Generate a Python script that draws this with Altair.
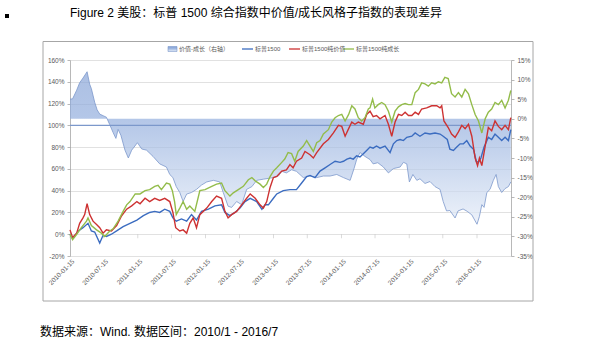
import altair as alt
import pandas as pd

# ---------------- data ----------------
area_dates = ["2010-01-15","2010-01-29","2010-02-20","2010-03-08","2010-03-26","2010-04-17","2010-05-01","2010-05-10",
    "2010-05-28","2010-06-10","2010-06-24","2010-07-12","2010-07-30","2010-08-17","2010-09-04","2010-09-19","2010-10-01",
    "2010-10-16","2010-11-07","2010-11-25","2010-12-13","2011-01-13","2011-02-05","2011-03-03","2011-04-07","2011-05-13",
    "2011-06-18","2011-07-06","2011-07-23","2011-08-10","2011-08-29","2011-09-16","2011-10-05","2011-10-31","2011-11-27",
    "2011-12-24","2012-01-21","2012-02-26","2012-03-31","2012-04-19","2012-05-15","2012-06-03","2012-06-30","2012-07-27",
    "2012-08-23","2012-09-20","2012-10-16","2012-11-21","2013-01-14","2013-02-10","2013-02-28","2013-03-25","2013-04-22",
    "2013-05-18","2013-06-24","2013-07-30","2013-09-04","2013-10-10","2013-11-15","2013-12-21","2014-01-26","2014-03-03",
    "2014-03-24","2014-04-07","2014-04-25","2014-05-22","2014-06-18","2014-07-05","2014-07-30","2014-08-29","2014-09-25",
    "2014-10-22","2014-11-27","2014-12-15","2015-01-02","2015-01-16","2015-02-04","2015-02-25","2015-03-14","2015-04-10",
    "2015-05-07","2015-06-03","2015-06-30","2015-07-17","2015-08-04","2015-08-22","2015-09-19","2015-10-05","2015-11-01",
    "2015-11-23","2015-12-18","2016-01-15","2016-01-28","2016-02-10","2016-02-22","2016-03-08","2016-03-25","2016-04-12",
    "2016-04-27","2016-05-09","2016-05-27","2016-06-14","2016-07-02","2016-07-15"]
area_vals = [5.0,5.1,7.3,9.2,10.4,12.0,8.8,7.7,4.2,2.3,1.2,0.8,0.4,-1.5,-3.5,-5.0,-2.7,-4.2,-8.0,-10.0,-8.0,-6.1,-7.7,-8.0,
    -9.6,-11.5,-12.3,-14.2,-15.0,-17.3,-18.8,-21.1,-19.2,-18.8,-18.0,-16.9,-16.1,-15.7,-16.1,-18.8,-22.3,-22.6,-21.1,-21.9,
    -18.0,-17.3,-15.7,-15.4,-15.0,-14.6,-13.4,-13.8,-13.0,-13.4,-15.0,-14.6,-15.0,-14.6,-14.6,-14.2,-15.0,-15.7,-12.7,-10.4,
    -8.6,-9.6,-10.4,-11.5,-11.2,-12.3,-13.8,-12.7,-12.3,-11.1,-11.5,-16.1,-14.2,-15.7,-15.3,-16.5,-16.0,-17.3,-18.0,-21.1,
    -23.5,-23.4,-25.3,-23.5,-23.0,-23.6,-24.5,-26.9,-24.9,-21.9,-22.6,-18.8,-18.0,-15.7,-14.2,-17.3,-18.8,-17.8,-17.3,-16.1]

sp_dates = ["2010-01-15","2010-01-29","2010-03-01","2010-03-26","2010-04-22","2010-05-10","2010-05-28","2010-06-24",
    "2010-07-12","2010-07-30","2010-08-26","2010-09-23","2010-10-28","2010-12-04","2011-01-10","2011-02-14","2011-03-20",
    "2011-04-16","2011-05-13","2011-06-09","2011-07-06","2011-07-23","2011-08-10","2011-09-07","2011-10-05","2011-10-31",
    "2011-11-27","2011-12-24","2012-01-30","2012-03-05","2012-04-10","2012-04-28","2012-05-25","2012-06-21","2012-07-18",
    "2012-08-14","2012-09-11","2012-10-16","2012-11-13","2012-11-30","2012-12-18","2013-01-14","2013-02-01","2013-03-08",
    "2013-04-13","2013-05-18","2013-06-15","2013-07-12","2013-07-30","2013-08-26","2013-09-22","2013-10-19","2013-11-15",
    "2013-12-12","2014-01-08","2014-01-26","2014-02-14","2014-03-03","2014-03-20","2014-04-07","2014-04-25","2014-05-31",
    "2014-06-18","2014-07-05","2014-07-23","2014-08-11","2014-09-07","2014-10-04","2014-10-22","2014-11-09","2014-11-27",
    "2014-12-15","2015-01-02","2015-01-29","2015-02-16","2015-03-14","2015-04-10","2015-05-07","2015-06-03","2015-06-30",
    "2015-07-17","2015-08-08","2015-08-22","2015-09-10","2015-09-28","2015-10-16","2015-11-03","2015-11-21","2015-12-09",
    "2015-12-27","2016-01-11","2016-01-23","2016-02-05","2016-02-22","2016-03-16","2016-04-03","2016-04-21","2016-05-09",
    "2016-05-27","2016-06-14","2016-07-02","2016-07-15"]
sp_vals = [0,-4,3,6,10,3,2,-8,-1,-2,0,3,7,10,13,17,20,21,20,23,21,15,12,14,12,18,13,21,23,26,27,20,17,20,24,30,33,30,23,
    27,27,33,37,40,41,41,47,53,54,52,58,61,64,67,66,67,69,70,69,72,71,77,80,79,81,79,81,75,83,86,87,86,89,90,93,90,93,92,
    93,92,90,87,78,77,80,83,83,86,81,78,67,66,70,80,89,87,92,89,86,89,86,96]

value_dates = ["2010-01-15","2010-01-29","2010-02-20","2010-03-08","2010-03-26","2010-04-04","2010-04-17","2010-05-01",
    "2010-05-19","2010-06-07","2010-06-24","2010-07-12","2010-07-30","2010-08-26","2010-09-23","2010-10-20","2010-11-16",
    "2010-12-13","2011-01-10","2011-01-27","2011-02-23","2011-03-20","2011-04-16","2011-05-13","2011-06-09","2011-07-06",
    "2011-07-23","2011-08-07","2011-08-29","2011-09-16","2011-10-05","2011-10-22","2011-11-09","2011-11-27","2011-12-15",
    "2012-01-21","2012-02-17","2012-03-14","2012-04-10","2012-04-28","2012-05-15","2012-06-03","2012-06-30","2012-07-27",
    "2012-08-23","2012-09-11","2012-10-08","2012-11-03","2012-11-21","2012-12-09","2012-12-27","2013-01-14","2013-02-01",
    "2013-02-28","2013-03-25","2013-04-13","2013-04-30","2013-05-18","2013-06-15","2013-07-03","2013-07-30","2013-08-17",
    "2013-09-04","2013-10-10","2013-11-06","2013-12-03","2013-12-30","2014-01-17","2014-02-04","2014-02-23","2014-03-12",
    "2014-03-29","2014-04-16","2014-05-13","2014-05-31","2014-06-18","2014-07-05","2014-07-23","2014-08-11","2014-09-07",
    "2014-09-25","2014-10-13","2014-10-31","2014-11-18","2014-12-06","2014-12-24","2015-01-11","2015-01-29","2015-02-16",
    "2015-03-06","2015-03-23","2015-04-19","2015-05-16","2015-06-12","2015-06-30","2015-07-09","2015-07-21","2015-08-13",
    "2015-08-31","2015-09-19","2015-10-07","2015-10-25","2015-11-12","2015-11-30","2015-12-18","2016-01-05","2016-01-18",
    "2016-01-28","2016-02-10","2016-02-28","2016-03-16","2016-04-03","2016-04-21","2016-05-09","2016-05-27","2016-06-14",
    "2016-07-02","2016-07-15"]
value_vals = [4,-3,1,10,15,18,28,18,12,9,6,1,4,3,8,17,23,26,30,28,33,30,33,31,33,30,20,6,3,4,1,10,15,6,18,24,30,35,33,21,
    15,18,21,27,33,37,33,27,24,30,43,52,53,58,59,64,61,67,70,76,73,70,75,83,87,93,100,99,90,97,103,101,103,101,110,113,108,
    109,106,109,101,90,103,110,109,112,109,109,112,110,115,116,118,118,116,118,104,98,92,89,94,100,97,101,90,70,63,70,63,81,
    98,95,104,99,96,100,96,107]

growth_dates = ["2010-01-15","2010-01-29","2010-02-20","2010-03-17","2010-04-14","2010-04-22","2010-05-10","2010-06-07",
    "2010-07-03","2010-07-21","2010-08-17","2010-09-04","2010-10-01","2010-10-28","2010-11-16","2010-12-04","2011-01-01",
    "2011-01-27","2011-02-23","2011-03-20","2011-04-16","2011-05-04","2011-05-22","2011-06-18","2011-07-06","2011-07-20",
    "2011-08-01","2011-08-10","2011-08-29","2011-09-16","2011-10-05","2011-10-22","2011-11-18","2011-12-15","2012-01-12",
    "2012-02-17","2012-03-14","2012-04-10","2012-04-28","2012-05-25","2012-06-12","2012-07-09","2012-08-05","2012-09-01",
    "2012-09-20","2012-10-08","2012-11-03","2012-11-21","2012-12-09","2012-12-27","2013-01-14","2013-02-01","2013-02-28",
    "2013-03-16","2013-04-03","2013-04-22","2013-05-09","2013-05-27","2013-06-24","2013-07-12","2013-07-30","2013-08-17",
    "2013-09-04","2013-09-22","2013-10-10","2013-11-06","2013-11-24","2013-12-12","2013-12-30","2014-01-17","2014-02-04",
    "2014-02-23","2014-03-12","2014-03-29","2014-04-16","2014-05-04","2014-05-22","2014-06-09","2014-06-18","2014-07-02",
    "2014-07-14","2014-08-01","2014-08-20","2014-09-07","2014-09-25","2014-10-13","2014-10-31","2014-11-18","2014-12-06",
    "2014-12-24","2015-01-11","2015-01-29","2015-02-16","2015-03-06","2015-03-23","2015-04-10","2015-04-28","2015-05-16",
    "2015-06-03","2015-06-21","2015-07-09","2015-07-26","2015-08-13","2015-08-31","2015-09-19","2015-10-07","2015-10-25",
    "2015-11-12","2015-11-30","2015-12-18","2016-01-05","2016-01-23","2016-02-10","2016-02-28","2016-03-16","2016-04-03",
    "2016-04-21","2016-05-09","2016-05-27","2016-06-14","2016-07-02","2016-07-15"]
growth_vals = [0,-5,0,6,12,15,8,4,1,-2,3,5,12,21,27,30,37,37,40,41,44,45,41,47,46,40,30,18,24,30,23,26,21,40,41,44,46,47,
    40,35,38,41,44,50,52,49,46,43,46,53,58,61,66,69,75,74,67,76,81,86,81,76,84,86,92,96,103,107,109,110,104,110,118,115,
    107,104,107,115,116,124,116,119,121,119,113,103,113,117,119,120,119,119,130,133,139,138,136,139,138,140,139,144,143,
    129,126,130,126,133,129,119,110,104,93,106,112,115,121,119,123,116,123,132]

tick_dates = ["2010-01-15","2010-07-15","2011-01-15","2011-07-15","2012-01-15","2012-07-15","2013-01-15",
              "2013-07-15","2014-01-15","2014-07-15","2015-01-15","2015-07-15","2016-01-15"]
left_ticks = [-0.2, 0.0, 0.2, 0.4, 0.6, 0.8, 1.0, 1.2, 1.4, 1.6]
right_ticks = [-0.35, -0.30, -0.25, -0.20, -0.15, -0.10, -0.05, 0.0, 0.05, 0.10, 0.15]

title_text = "Figure 2 美股：标普 1500 综合指数中价值/成长风格子指数的表现差异"
source_text = "数据来源：Wind. 数据区间：2010/1 - 2016/7"
legend_labels = ["价值-成长（右轴）", "标普1500", "标普1500纯价值", "标普1500纯成长"]
line_colors = ["#3B6CC0", "#CD3232", "#93BC4A"]

# ---------------- helpers ----------------
FONT = "Liberation Sans, Noto Sans CJK SC"
LABEL_COLOR = "#595959"
W, H = 441, 196


def utc(s):
    y, m, d = (int(p) for p in s.split("-"))
    return alt.DateTime(year=y, month=m, date=d, utc=True)


def series_df(dates, vals):
    return pd.DataFrame({"date": dates, "value": [v / 100 for v in vals]})


x_enc = alt.X(
    "date:T",
    scale=alt.Scale(type="utc", domain=[utc("2010-01-15"), utc("2016-07-16")], nice=False),
    axis=alt.Axis(
        values=[utc(d) for d in tick_dates],
        labelExpr="utcFormat(datum.value, '%Y-%m-%d')",
        labelAngle=-45, labelAlign="right", labelBaseline="middle",
        labelFontSize=6.5, labelFont=FONT, labelColor=LABEL_COLOR,
        labelPadding=4, labelOffset=3, labelOverlap=False, labelFlush=False, labelBound=False,
        domain=False, ticks=False, grid=False, title=None,
    ),
)

pct_expr = "(datum.value < -0.0001 ? '-' : '') + format(abs(datum.value), '.0%')"

y_left = alt.Y(
    "value:Q",
    scale=alt.Scale(domain=[-0.2, 1.6], nice=False, zero=False),
    axis=alt.Axis(
        values=left_ticks, labelExpr=pct_expr, orient="left",
        grid=True, gridColor="#D9D9D9", gridWidth=0.8,
        domainColor="#A6A6A6", domainWidth=0.8, tickColor="#A6A6A6", tickSize=3, tickWidth=0.8,
        labelFontSize=6.5, labelFont=FONT, labelColor=LABEL_COLOR, labelPadding=3, title=None,
    ),
)

y_right = alt.Y(
    "value:Q",
    scale=alt.Scale(domain=[-0.35, 0.15], nice=False, zero=False),
    axis=alt.Axis(
        values=right_ticks, labelExpr=pct_expr, orient="right",
        grid=False, domainColor="#A6A6A6", domainWidth=0.8, tickColor="#A6A6A6", tickSize=3, tickWidth=0.8,
        labelFontSize=6.5, labelFont=FONT, labelColor=LABEL_COLOR, labelPadding=3, title=None,
    ),
)

area_fill = alt.Gradient(
    gradient="linear",
    stops=[alt.GradientStop(color="#88A4D7", offset=0),
           alt.GradientStop(color="#94AFDE", offset=0.32),
           alt.GradientStop(color="#BACCEA", offset=0.65),
           alt.GradientStop(color="#E6EDF8", offset=1)],
    x1=0, x2=0, y1=0, y2=1,
)

# ---------------- marks ----------------
area = alt.Chart(series_df(area_dates, area_vals)).mark_area(
    color=area_fill, line={"color": "#7C98CB", "strokeWidth": 0.8}, interpolate="linear"
).encode(x=x_enc, y=y_right, y2=alt.datum(0))

rule100 = alt.Chart(pd.DataFrame({"value": [1.0]})).mark_rule(color="#7C98CB", strokeWidth=1.2).encode(y=y_left)

ticks0 = alt.Chart(pd.DataFrame({"date": tick_dates, "value": [0.0] * len(tick_dates)})).mark_tick(
    orient="vertical", size=4, thickness=0.8, color="#BFBFBF", yOffset=2
).encode(x=x_enc, y=y_left)


def line_layer(dates, vals, color):
    return alt.Chart(series_df(dates, vals)).mark_line(color=color, strokeWidth=1.4, interpolate="linear").encode(
        x=x_enc, y=y_left)


left_group = alt.layer(
    ticks0, rule100,
    line_layer(sp_dates, sp_vals, line_colors[0]),
    line_layer(value_dates, value_vals, line_colors[1]),
    line_layer(growth_dates, growth_vals, line_colors[2]),
)

one = pd.DataFrame({"k": [0]})

frame = alt.Chart(one).mark_rect(fill=None, stroke="#A6A6A6", strokeWidth=1).encode(
    x=alt.value(-27), x2=alt.value(463), y=alt.value(-18.5), y2=alt.value(241))

title = alt.Chart(one).mark_text(
    text=title_text, align="left", baseline="middle", fontSize=12, font=FONT, color="#000000"
).encode(x=alt.value(0), y=alt.value(-47))

bullet = alt.Chart(one).mark_rect(color="#000000").encode(
    x=alt.value(-65), x2=alt.value(-61), y=alt.value(-46), y2=alt.value(-42))

source = alt.Chart(one).mark_text(
    text=source_text, align="left", baseline="middle", fontSize=12, font=FONT, color="#000000"
).encode(x=alt.value(-30), y=alt.value(272))

# legend (drawn by hand, Excel style)
LEG_Y = -11
leg_swatch = alt.Chart(one).mark_rect(color=area_fill, stroke="#7C98CB", strokeWidth=0.6).encode(
    x=alt.value(98), x2=alt.value(107), y=alt.value(LEG_Y - 2.5), y2=alt.value(LEG_Y + 2.5))

leg_layers = [leg_swatch]
leg_line_x = [172, 219, 273]
leg_text_x = [109, 185, 232, 286]
for i, lx in enumerate(leg_line_x):
    leg_layers.append(alt.Chart(one).mark_rule(color=line_colors[i], strokeWidth=1.3).encode(
        x=alt.value(lx), x2=alt.value(lx + 11), y=alt.value(LEG_Y)))
for i, tx in enumerate(leg_text_x):
    leg_layers.append(alt.Chart(one).mark_text(
        text=legend_labels[i], align="left", baseline="middle", fontSize=6, font=FONT, color=LABEL_COLOR
    ).encode(x=alt.value(tx), y=alt.value(LEG_Y)))

chart = alt.layer(
    frame, area, left_group, title, bullet, source, *leg_layers
).resolve_scale(y="independent").properties(
    width=W, height=H,
    autosize=alt.AutoSizeParams(type="none"),
    padding={"left": 70, "top": 60, "right": 81, "bottom": 97},
    background="white",
).configure_view(stroke=None)

chart.save("out.html", embed_options={"renderer": "svg", "actions": False})
